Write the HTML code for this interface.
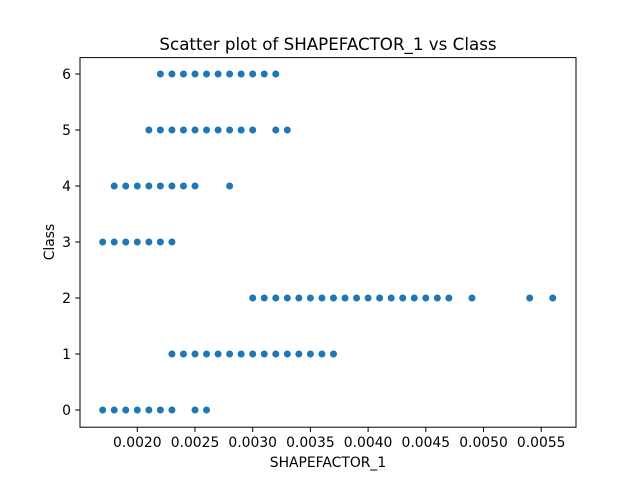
<!DOCTYPE html>
<html><head><meta charset="utf-8"><style>body{margin:0;background:#fff}svg{display:block;font-family:"DejaVu Sans","Liberation Sans",sans-serif}</style></head>
<body>
<svg id="chart" width="640" height="480">
<rect width="640" height="480" fill="#fff"/>
<text x="328" y="50" text-anchor="middle" font-size="16.7">Scatter plot of SHAPEFACTOR_1 vs Class</text>
<g id="points"></g>
<rect x="80" y="57.6" width="496" height="369.6" fill="none" stroke="#000" stroke-width="1"/>
<g id="xticks"></g>
<g id="yticks"></g>
<text x="328" y="467" text-anchor="middle" font-size="13.9">SHAPEFACTOR_1</text>
<text transform="translate(54,242) rotate(-90)" text-anchor="middle" font-size="13.9">Class</text>
</svg>
<script>
const classes=[0,1,2,3,4,5,6];
const xs0=[17,18,19,20,21,22,23,25,26];
const xs1=[23,24,25,26,27,28,29,30,31,32,33,34,35,36,37];
const xs2=[30,31,32,33,34,35,36,37,38,39,40,41,42,43,44,45,46,47,49,54,56];
const xs3=[17,18,19,20,21,22,23];
const xs4=[18,19,20,21,22,23,24,25,28];
const xs5=[21,22,23,24,25,26,27,28,29,30,32,33];
const xs6=[22,23,24,25,26,27,28,29,30,31,32];
const xTicks=[0.0020,0.0025,0.0030,0.0035,0.0040,0.0045,0.0050,0.0055];
const yTicks=[0,1,2,3,4,5,6];
const series=[xs0,xs1,xs2,xs3,xs4,xs5,xs6];
const NS="http://www.w3.org/2000/svg";
function xS(v){return 137.3+(v-0.002)*115400;}
function yS(c){return 410-c*56;}
const pg=document.getElementById('points');
series.forEach((arr,ci)=>{arr.forEach(u=>{
 const c=document.createElementNS(NS,'circle');
 c.setAttribute('cx',xS(u/10000));c.setAttribute('cy',yS(classes[ci]));c.setAttribute('r',3.5);c.setAttribute('fill','#1f77b4');
 
 
 pg.appendChild(c);});});
const xg=document.getElementById('xticks');
xTicks.forEach(t=>{const x=xS(t);
 const l=document.createElementNS(NS,'line');l.setAttribute('x1',x);l.setAttribute('x2',x);l.setAttribute('y1',427.2);l.setAttribute('y2',432);l.setAttribute('stroke','#000');
 
 
 xg.appendChild(l);
 const tx=document.createElementNS(NS,'text');tx.setAttribute('x',x);tx.setAttribute('y',447);tx.setAttribute('text-anchor','middle');tx.setAttribute('font-size','13.9');tx.textContent=t.toFixed(4);
 
 
 xg.appendChild(tx);});
const yg=document.getElementById('yticks');
yTicks.forEach(t=>{const y=yS(t);
 const l=document.createElementNS(NS,'line');l.setAttribute('x1',75.2);l.setAttribute('x2',80);l.setAttribute('y1',y);l.setAttribute('y2',y);l.setAttribute('stroke','#000');
 
 
 yg.appendChild(l);
 const tx=document.createElementNS(NS,'text');tx.setAttribute('x',71);tx.setAttribute('y',y+5);tx.setAttribute('text-anchor','end');tx.setAttribute('font-size','13.9');tx.textContent=t;
 
 
 yg.appendChild(tx);});
</script>
</body></html>
